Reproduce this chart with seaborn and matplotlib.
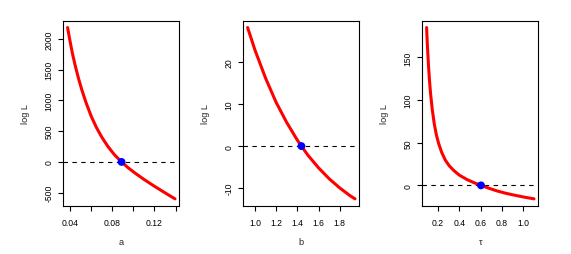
import matplotlib
matplotlib.use("Agg")
import matplotlib.pyplot as plt
import seaborn as sns

# panel 1: parameter a
a_vals = [0.0375, 0.0394, 0.042, 0.045, 0.048, 0.051, 0.055, 0.060, 0.065, 0.070,
          0.076, 0.082, 0.0887, 0.095, 0.102, 0.110, 0.118, 0.126, 0.133, 0.1395]
a_logL = [2188, 2003, 1773, 1549, 1351, 1174, 966, 740, 556, 402,
          246, 116, 0, -96, -188, -285, -375, -461, -535, -602]
a_hat = 0.0887

# panel 2: parameter b
b_vals = [0.93, 1.0, 1.1, 1.2, 1.3, 1.4, 1.438, 1.5, 1.6, 1.7, 1.8, 1.9, 1.944]
b_logL = [28.3, 22.9, 16.2, 10.4, 5.6, 1.4, 0.0, -2.2, -5.2, -7.8, -10.0, -11.9, -12.6]
b_hat = 1.438

# panel 3: parameter tau
t_vals = [0.093, 0.100, 0.110, 0.120, 0.130, 0.145, 0.165, 0.185, 0.206, 0.235, 0.269,
          0.305, 0.347, 0.400, 0.472, 0.544, 0.603, 0.680, 0.753, 0.830, 0.909, 1.000, 1.100]
t_logL = [185, 165, 142, 123, 108, 90, 72, 59, 49, 38.5, 29.5,
          23, 17.5, 12, 6.8, 2.8, 0.0, -3.5, -6.5, -9.1, -11.3, -13.6, -15.8]
t_hat = 0.603

panels = [
    ("a", a_vals, a_logL, a_hat,
     [0.04, 0.06, 0.08, 0.10, 0.12, 0.14], ["0.04", "", "0.08", "", "0.12", ""],
     [-500, 0, 500, 1000, 1500, 2000]),
    ("b", b_vals, b_logL, b_hat,
     [1.0, 1.2, 1.4, 1.6, 1.8], ["1.0", "1.2", "1.4", "1.6", "1.8"],
     [-10, 0, 10, 20]),
    ("τ", t_vals, t_logL, t_hat,
     [0.2, 0.4, 0.6, 0.8, 1.0], ["0.2", "0.4", "0.6", "0.8", "1.0"],
     [0, 50, 100, 150]),
]

sns.set_style("ticks")
plt.rcParams["font.family"] = ["Liberation Sans", "DejaVu Sans"]
plt.rcParams["axes.unicode_minus"] = False

fig = plt.figure(figsize=(5.71, 2.55), dpi=100)
lefts = [63.3, 243.3, 422.3]
W, H = 571, 255

for left, (name, xs, ys, xhat, xt, xtl, yt) in zip(lefts, panels):
    ax = fig.add_axes([left / W, (255 - 206.7) / H, 116 / W, 185 / H])
    ax.axhline(0, color="black", lw=0.8, linestyle=(0, (4, 4)))
    sns.lineplot(x=xs, y=ys, ax=ax, color="red", lw=2.2, sort=False, estimator=None)
    sns.scatterplot(x=[xhat], y=[0], ax=ax, color="blue", s=32, edgecolor="none", zorder=5)
    ax.margins(0.04)

    ax.set_xticks(xt)
    ax.set_xticklabels(xtl)
    ax.set_yticks(yt)
    ax.set_yticklabels([str(v) for v in yt], rotation=90, va="center")
    ax.tick_params(axis="both", direction="out", length=3.6, width=0.8,
                   color="black", labelsize=6.2, labelcolor="black")
    ax.tick_params(axis="x", pad=5)
    ax.tick_params(axis="y", pad=3.5)
    for sp in ax.spines.values():
        sp.set_visible(True)
        sp.set_color("black")
        sp.set_linewidth(0.8)

    ax.set_xlabel(name, fontsize=6.6)
    ax.set_ylabel("log L", fontsize=6.6)
    ax.xaxis.set_label_coords(0.5, -36 / 185)
    ax.xaxis.label.set_va("center")
    ax.yaxis.set_label_coords(-38 / 116, 0.5)
    ax.yaxis.label.set_va("center")

fig.savefig("out.png", dpi=100)
plt.close(fig)
